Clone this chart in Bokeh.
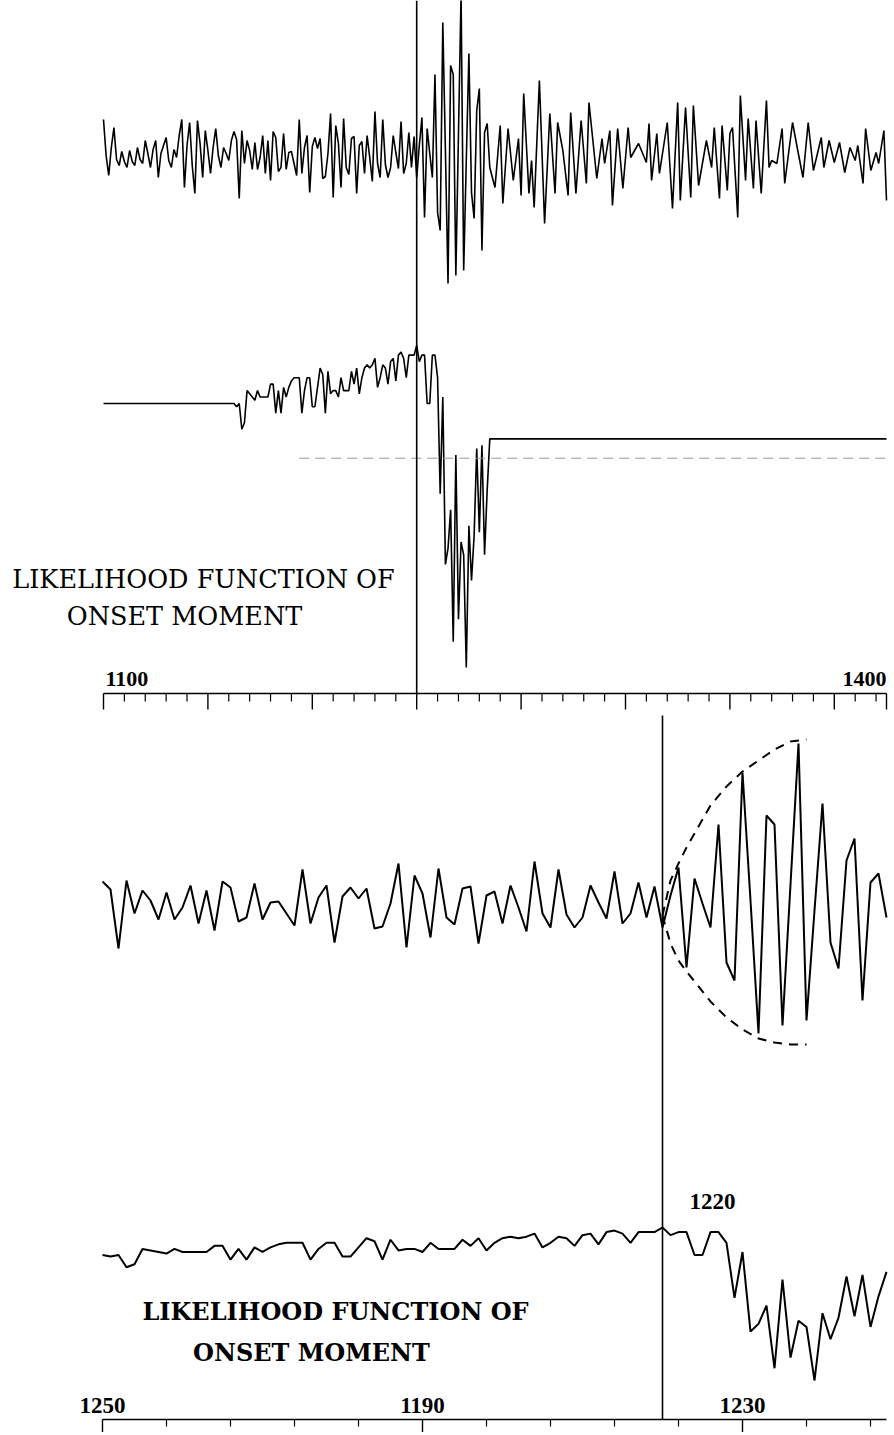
from bokeh.plotting import figure
from bokeh.models import Range1d
from bokeh.core.properties import value
from bokeh.embed import file_html
from bokeh.resources import INLINE

# ---------------- data ----------------
ONSET = 1220

# seismogram, early part (samples 1100-1149)
SEIS_EARLY_T = list(range(1100, 1150))
SEIS_EARLY_A = [36, 0, -20, 8, 28, -4, -10, 4, -6, -12,
                5, -6, -10, 8, -4, -8, 15, 2, -12, 6,
                15, -22, 2, 10, 18, -5, -12, 6, -2, 20,
                36, -32, 10, 33, -10, -38, 35, 12, -22, 25,
                5, -18, 8, 27, 0, -12, 8, 2, -5, 15]

# analysis window, one value per sample 1150..1248
WIN_T = list(range(1150, 1249))
SEIS_WIN_A = [24, 16, -43, 25, -8, 15, 5, -14, 13, -14,
              -2, 20, -18, 15, -25, 24, 18, -16, -12, 22,
              -14, 3, 4, -8, -20, 36, -18, 8, 20, -37,
              9, 18, 7, 17, -23, -21, 2, 42, -42, 30,
              12, -32, 37, -12, -19, 17, 19, -38, 10, 14,
              -18, 20, -2, -26, 44, -8, -22, 36, -9, -22,
              -12, 20, 3, -13, 34, -18, -8, 23, -12, 19,
              -22, 10, 38, -62, 27, 2, -22, 81, -57, -75,
              133, 5, -128, 90, 81, -120, 21, 162, -115, -5,
              102, -37, -63, 45, 67, -95, 23, 32, -12]

# seismogram, late part (samples 1250-1400)
SEIS_LATE_T = [1250, 1252, 1253, 1255, 1257, 1259, 1260, 1261, 1263, 1264, 1265, 1267, 1269, 1271,
               1273, 1274, 1276, 1278, 1279, 1281, 1283, 1285, 1286, 1289, 1291, 1292, 1294, 1295,
               1297, 1299, 1301, 1302, 1305, 1308, 1309, 1310, 1312, 1313, 1316, 1318, 1320, 1321,
               1323, 1325, 1326, 1328, 1331, 1333, 1334, 1336, 1337, 1339, 1340, 1341, 1343, 1344,
               1346, 1347, 1349, 1350, 1352, 1354, 1355, 1356, 1358, 1360, 1361, 1364, 1366, 1368,
               1370, 1372, 1375, 1376, 1378, 1380, 1382, 1384, 1386, 1388, 1389, 1391, 1392, 1394,
               1396, 1397, 1399, 1400]
SEIS_LATE_A = [-32, 30, -48, 27, -25, 17, -40, 62, -38, -5, -52, 75, -68, 42,
               -38, 33, 5, -40, 43, -38, 35, -28, 53, -23, 17, -8, 25, -50,
               27, -33, 28, -2, 12, -7, 32, -25, 22, -18, 33, -53, 53, -45,
               48, -42, 50, -30, 15, -12, 28, -43, 30, -35, 22, 28, -62, 60,
               -25, 37, -33, 35, -38, 55, -12, -5, -8, 27, -28, 33, 5, -22,
               33, -15, 18, -12, 15, -7, 13, -17, 8, -5, 10, -28, 27, -15,
               3, -8, 25, -45]

# likelihood function of onset moment, one value per sample 1150..1248 (max = 0 at onset)
LIK_V = [-18, -19, -18, -26, -24, -14, -15, -16, -17, -14,
         -16, -16, -16, -16, -12, -12, -21, -14, -21, -13,
         -16, -13, -11, -10, -10, -10, -21, -14, -10, -10,
         -19, -19, -13, -7, -9, -21, -8, -15, -14, -14,
         -16, -10, -14, -14, -14, -8, -12, -7, -15, -10,
         -7, -6, -7, -6, -4, -13, -10, -6, -7, -12,
         -5, -4, -11, -3, -2, -4, -10, -3, -3, -3,
         0, -5, -3, -3, -18, -18, -3, -3, -10, -46,
         -16, -68, -63, -51, -92, -34, -85, -61, -65, -100,
         -56, -73, -59, -32, -58, -31, -65, -45, -29]
LIK_LEVEL = -35

# envelope sketched over the onset in the lower panel
ENV_T = [1220, 1221, 1222, 1223, 1224, 1226, 1228, 1230, 1232, 1234, 1236, 1238]
ENV_UP = [-10, 25, 42, 58, 72, 100, 119, 134, 145, 156, 164, 166]
ENV_LO = [-10, -38, -55, -66, -76, -96, -112, -124, -133, -137, -139, -139]

# axes
TOP_MAJOR = [1100, 1140, 1180, 1220, 1260, 1300, 1340, 1380, 1400]
TOP_MINOR = [t for t in range(1100, 1400, 8) if (t - 1100) % 40]
TOP_LABEL_T = [1100, 1400]
TOP_LABELS = ["1100", "1400"]
BOT_MAJOR = [1150, 1190, 1230]
BOT_MINOR = [t for t in range(1150, 1249, 8) if (t - 1150) % 40]
BOT_LABELS = ["1250", "1190", "1230"]
ONSET_LABEL = "1220"
TITLE_1 = "LIKELIHOOD FUNCTION OF"
TITLE_2 = "ONSET MOMENT"

# ---------------- layout (page pixels, origin top-left) ----------------
W, H = 890, 1432
TOP_AXIS_Y = 693
BOT_AXIS_Y = 1419
SERIF = value("DejaVu Serif")
NUMF = value("Liberation Serif")

p = figure(width=W, height=H, x_range=Range1d(0, W), y_range=Range1d(H, 0),
           x_axis_type=None, y_axis_type=None, output_backend="svg",
           toolbar_location=None, min_border=0)
p.outline_line_color = None
p.background_fill_color = "white"
p.border_fill_color = "white"

p.extra_x_ranges = {
    "t_top": Range1d(1100 - 103 / 2.61, 1400 + (W - 886) / 2.61),
    "t_bot": Range1d(1150 - 102 / 8.0, 1150 + (W - 102) / 8.0),
}
p.extra_y_ranges = {
    "a_top": Range1d(155 - H, 155),
    "a_bot": Range1d(905 - H, 905),
    "l_top": Range1d((345 - H) / 3.22, 345 / 3.22),
    "l_bot": Range1d((1227 - H) / 1.53, 1227 / 1.53),
}

# ---------- top panel ----------
seis_t = SEIS_EARLY_T + WIN_T + SEIS_LATE_T
seis_a = SEIS_EARLY_A + SEIS_WIN_A + SEIS_LATE_A
p.line(seis_t, seis_a, x_range_name="t_top", y_range_name="a_top",
       line_color="black", line_width=1.6)

lik_t_full = [TOP_MAJOR[0]] + WIN_T + [TOP_MAJOR[-1]]
lik_v_full = [LIK_V[0]] + LIK_V + [LIK_V[-1]]
p.line(lik_t_full, lik_v_full, x_range_name="t_top", y_range_name="l_top",
       line_color="black", line_width=1.6)
p.line([1175, 1400], [LIK_LEVEL, LIK_LEVEL], x_range_name="t_top", y_range_name="l_top",
       line_color="#999999", line_width=1, line_dash="10 6")

p.segment(x0=[ONSET], y0=[0], x1=[ONSET], y1=[TOP_AXIS_Y], x_range_name="t_top",
          line_color="black", line_width=1.6)

# top axis
p.segment(x0=[TOP_MAJOR[0]], y0=[TOP_AXIS_Y], x1=[TOP_MAJOR[-1]], y1=[TOP_AXIS_Y],
          x_range_name="t_top", line_color="black", line_width=1.6)
p.segment(x0=TOP_MAJOR, y0=[TOP_AXIS_Y] * len(TOP_MAJOR), x1=TOP_MAJOR,
          y1=[TOP_AXIS_Y + 16] * len(TOP_MAJOR), x_range_name="t_top",
          line_color="black", line_width=1.4)
p.segment(x0=TOP_MINOR, y0=[TOP_AXIS_Y] * len(TOP_MINOR), x1=TOP_MINOR,
          y1=[TOP_AXIS_Y + 8] * len(TOP_MINOR), x_range_name="t_top",
          line_color="black", line_width=1.2)
p.text(x=[TOP_LABEL_T[0]], y=[678], text=[TOP_LABELS[0]], x_range_name="t_top",
       text_font=NUMF, text_font_size=value("22px"), text_font_style="bold",
       text_align="left", text_baseline="middle", x_offset=2, text_color="black")
p.text(x=[TOP_LABEL_T[1]], y=[678], text=[TOP_LABELS[1]], x_range_name="t_top",
       text_font=NUMF, text_font_size=value("22px"), text_font_style="bold",
       text_align="right", text_baseline="middle", text_color="black")

p.text(x=[203, 184], y=[578, 615], text=[TITLE_1, TITLE_2],
       text_font=SERIF, text_font_size=value("25.5px"), text_align="center",
       text_baseline="middle", text_color="black")

# ---------- bottom panel ----------
p.line(WIN_T, SEIS_WIN_A, x_range_name="t_bot", y_range_name="a_bot",
       line_color="black", line_width=2)
p.line(ENV_T, ENV_UP, x_range_name="t_bot", y_range_name="a_bot",
       line_color="black", line_width=2, line_dash="9 7")
p.line(ENV_T, ENV_LO, x_range_name="t_bot", y_range_name="a_bot",
       line_color="black", line_width=2, line_dash="9 7")
p.line(WIN_T, LIK_V, x_range_name="t_bot", y_range_name="l_bot",
       line_color="black", line_width=2)

p.segment(x0=[ONSET], y0=[715], x1=[ONSET], y1=[BOT_AXIS_Y], x_range_name="t_bot",
          line_color="black", line_width=1.6)

# bottom axis
p.segment(x0=[WIN_T[0]], y0=[BOT_AXIS_Y], x1=[WIN_T[-1]], y1=[BOT_AXIS_Y],
          x_range_name="t_bot", line_color="black", line_width=1.6)
p.segment(x0=BOT_MAJOR, y0=[BOT_AXIS_Y] * len(BOT_MAJOR), x1=BOT_MAJOR,
          y1=[BOT_AXIS_Y + 17] * len(BOT_MAJOR), x_range_name="t_bot",
          line_color="black", line_width=1.4)
p.segment(x0=BOT_MINOR, y0=[BOT_AXIS_Y] * len(BOT_MINOR), x1=BOT_MINOR,
          y1=[BOT_AXIS_Y + 7] * len(BOT_MINOR), x_range_name="t_bot",
          line_color="black", line_width=1.2)
p.text(x=BOT_MAJOR, y=[1405] * len(BOT_MAJOR), text=BOT_LABELS, x_range_name="t_bot",
       text_font=NUMF, text_font_size=value("23px"), text_font_style="bold",
       text_align="center", text_baseline="middle", text_color="black")
p.text(x=[ONSET], y=[1201], text=[ONSET_LABEL], x_range_name="t_bot", x_offset=50,
       text_font=NUMF, text_font_size=value("23px"), text_font_style="bold",
       text_align="center", text_baseline="middle", text_color="black")

p.text(x=[335, 311], y=[1311, 1352], text=[TITLE_1, TITLE_2],
       text_font=SERIF, text_font_size=value("24px"), text_font_style="bold",
       text_align="center", text_baseline="middle", text_color="black")

open("out.html", "w").write(file_html(p, INLINE))
